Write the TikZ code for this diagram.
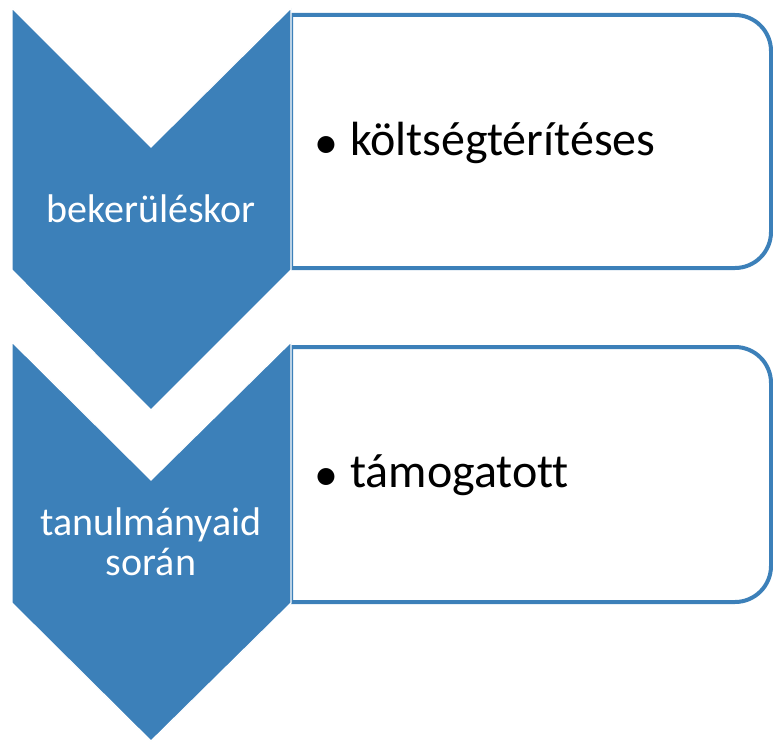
\documentclass[tikz,border=0pt]{standalone}
\usepackage{fontspec}
\setmainfont{Carlito}[Ligatures=NoCommon]
\definecolor{chevblue}{RGB}{60,128,185}
\newcommand{\itembullet}{\makebox[32pt][l]{\hspace{-4pt}\fontsize{48}{48}\selectfont\raisebox{-3.5pt}{•}}}
\tikzset{
  chev/.style={fill=chevblue, draw=white, line width=1.2pt, line join=miter},
  itembox/.style={draw=chevblue, line width=4pt, fill=white},
  chevtext/.style={text=white, font=\fontsize{40}{46}\selectfont, align=center, inner sep=0pt},
  itemtext/.style={text=black, font=\fontsize{48}{54}\selectfont, anchor=base west, inner sep=0pt}
}
\begin{document}
\begin{tikzpicture}[x=1pt,y=-1pt]
\useasboundingbox (0,0) rectangle (773,741);
% boxes
\draw[itembox] (291,15) -- (735,15) arc[start angle=270, end angle=360, radius=36] -- (771,232) arc[start angle=0, end angle=90, radius=36] -- (291,268) -- cycle;
\draw[itembox] (291,347) -- (735,347) arc[start angle=270, end angle=360, radius=36] -- (771,566) arc[start angle=0, end angle=90, radius=36] -- (291,602) -- cycle;
% chevrons
\path[chev] (12,8) -- (151,147) -- (291,8) -- (291,270) -- (151,410) -- (12,270) -- cycle;
\path[chev] (12,342) -- (151,480) -- (291,342) -- (291,603) -- (151,741) -- (12,603) -- cycle;
% texts
\node[chevtext, anchor=base] (t1) at (151,222) {bekerüléskor};
\node[chevtext, anchor=base] (t2a) at (151,535) {tanulmányaid};
\node[chevtext, anchor=base] (t2b) at (151,575) {során};
\node[itemtext] (i1) at (318,155) {\itembullet költségtérítéses};
\node[itemtext] (i2) at (318,487) {\itembullet támogatott};
\end{tikzpicture}
\end{document}
